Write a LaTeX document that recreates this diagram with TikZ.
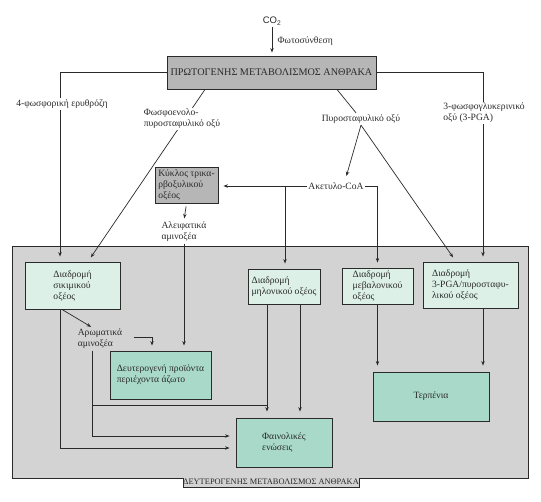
\documentclass[tikz,border=0pt]{standalone}
\usepackage{fontspec}
\setmainfont{Liberation Serif}
\newfontfamily\cofont{Liberation Sans}
\usetikzlibrary{arrows.meta}
\definecolor{ink}{HTML}{2A2A2A}
\definecolor{primfill}{HTML}{B6B6B6}
\definecolor{regfill}{HTML}{D3D3D3}
\definecolor{palemint}{HTML}{DDF0E8}
\definecolor{deepmint}{HTML}{A9D9C9}
\pgfdeclarelayer{back}
\pgfdeclarelayer{lines}
\pgfsetlayers{back,lines,main}
\begin{document}
\begin{tikzpicture}[x=1pt,y=-1pt,
  font=\fontsize{9.6}{11}\selectfont,
  line/.style={draw=ink, line width=0.7pt},
  arr/.style={line, -{Stealth[length=4.5pt,width=3.4pt]}},
  lbl/.style={text=ink, inner sep=1.5pt, align=left},
  wlbl/.style={lbl, fill=white},
  graybox/.style={draw=ink, line width=0.9pt, fill=primfill, text=ink, inner sep=2pt, align=left},
  pale/.style={draw=ink, line width=0.9pt, fill=palemint, text=ink, inner sep=2pt, align=left},
  deep/.style={draw=ink, line width=0.9pt, fill=deepmint, text=ink, inner sep=2pt, align=left}]
\useasboundingbox (0,0) rectangle (541,501);

% secondary metabolism region
\begin{pgfonlayer}{back}
\path[draw=ink, line width=0.9pt, fill=regfill] (12,246) -- (528,246) -- (528,478) -- (359,478) -- (359,487) -- (183,487) -- (183,478) -- (12,478) -- cycle;
\end{pgfonlayer}
\node[lbl, font=\fontsize{8.4}{9}\selectfont] (seclbl) at (271,482) {ΔΕΥΤΕΡΟΓΕΝΗΣ ΜΕΤΑΒΟΛΙΣΜΟΣ ΑΝΘΡΑΚΑ};

% top
\node[lbl, font=\cofont\fontsize{9.5}{10}\selectfont] (co2) at (272,21) {CO\textsubscript{2}};
\node[lbl, anchor=west] (phot) at (276,41) {Φωτοσύνθεση};
\node[graybox, minimum width=209pt, minimum height=33pt, align=center, font=\fontsize{10.2}{11}\selectfont] (prim) at (271.5,72.5) {ΠΡΩΤΟΓΕΝΗΣ ΜΕΤΑΒΟΛΙΣΜΟΣ ΑΝΘΡΑΚΑ};

% labels
\node[wlbl] (ery) at (62,104) {4-φωσφορική ερυθρόζη};
\node[wlbl] (pep) at (182,119) {Φωσφοενολο-\\πυροσταφυλικό οξύ};
\node[lbl] (pyr) at (361,119) {Πυροσταφυλικό οξύ};
\node[wlbl] (pgal) at (484,113) {3-φωσφογλυκερινικό\\οξύ (3-PGA)};
\node[lbl] (acet) at (336,186) {Ακετυλο-CoA};
\node[graybox, minimum width=63pt, minimum height=36pt] (kyk) at (186.5,185) {Κύκλος τρικα-\\ρβοξυλικού\\οξέος};
\node[lbl] (alif) at (184,232) {Αλειφατικά\\αμινοξέα};
\node[lbl] (arom) at (100,339) {Αρωματικά\\αμινοξέα};

% boxes
\node[pale, minimum width=95pt, minimum height=47pt] (sik) at (72.5,285.5) {Διαδρομή\\σικιμικού\\οξέος};
\node[pale, minimum width=72pt, minimum height=35pt] (mal) at (284,286.5) {Διαδρομή\\μηλονικού οξέος};
\node[pale, minimum width=71pt, minimum height=36pt] (mev) at (377.5,286) {Διαδρομή\\μεβαλονικού\\οξέος};
\node[pale, minimum width=95pt, minimum height=46pt] (pga) at (470.5,285) {Διαδρομή\\3-PGA/πυροσταφυ-\\λικού οξέος};
\node[deep, minimum width=101pt, minimum height=48pt] (sec) at (160.5,375) {Δευτερογενή προϊόντα\\περιέχοντα άζωτο};
\node[deep, minimum width=116pt, minimum height=49pt] (terp) at (431,396.5) {Τερπένια};
\node[deep, minimum width=96pt, minimum height=49pt] (phen) at (284,442.5) {Φαινολικές\\ενώσεις};

\coordinate (lx) at (60,72);
\coordinate (rx) at (483,72);
\coordinate (br) at (285,186);
\coordinate (j1) at (92,405);
\coordinate (j2) at (267,405);

\begin{pgfonlayer}{lines}
\draw[arr, shorten >=3pt] (co2.south) -- (co2.south |- prim.north);
% primary outgoing
\draw[arr, shorten >=5pt] (prim.west) -| (sik.north -| lx);
\draw[arr, shorten >=5pt] (prim.east) -| (pga.north -| rx);
\draw[arr, shorten >=5pt] ([xshift=-66.5pt]prim.south) -- ([xshift=15.5pt]sik.north);
\draw[line] ([xshift=65.5pt]prim.south) -- (pyr);
\draw[arr, shorten >=5pt] (pyr.south) -- ([xshift=9pt]acet.north);
\draw[arr, shorten >=5pt] (pyr.south) -- ([xshift=-14.5pt]pga.north);
% acetyl-CoA
\draw[arr, shorten >=5pt] (acet.west) -- (acet.west -| kyk.east);
\draw[arr, shorten >=5pt] (br) -- (br |- mal.north);
\draw[arr, shorten >=5pt] (acet.east) -| (mev.north);
% TCA cycle
\draw[arr, shorten <=3pt, shorten >=2pt] (kyk.south) -- (alif.north);
\draw[arr, shorten >=5pt] (alif.south) -- (alif.south |- sec.north);
% shikimate
\draw[arr, shorten >=1pt] ([xshift=-10.5pt]sik.south) -- ([xshift=-8pt]arom.north);
\draw[arr, shorten >=5pt] (arom.east) ++(10,-1.5) -| ([xshift=-8.5pt]sec.north);
\draw[arr, shorten >=6pt] ([xshift=-12.5pt]sik.south) |- ([yshift=-5.5pt]phen.west);
\draw[arr, shorten >=6pt] ([xshift=-8pt]arom.south) |- ([yshift=6.5pt]phen.west);
\draw[line] (j1) -- (j2);
% malonate
\draw[arr, shorten >=6pt] ([xshift=-17pt]mal.south) -- ([xshift=-17pt]phen.north);
\draw[arr, shorten >=6pt] ([xshift=16pt]mal.south) -- ([xshift=16pt]phen.north);
% terpenes
\draw[arr, shorten >=6pt] (mev.south) -- (mev.south |- terp.north);
\draw[arr, shorten >=6pt] ([xshift=12.5pt]pga.south) -- ([xshift=12.5pt]pga.south |- terp.north);
\end{pgfonlayer}
\end{tikzpicture}
\end{document}
